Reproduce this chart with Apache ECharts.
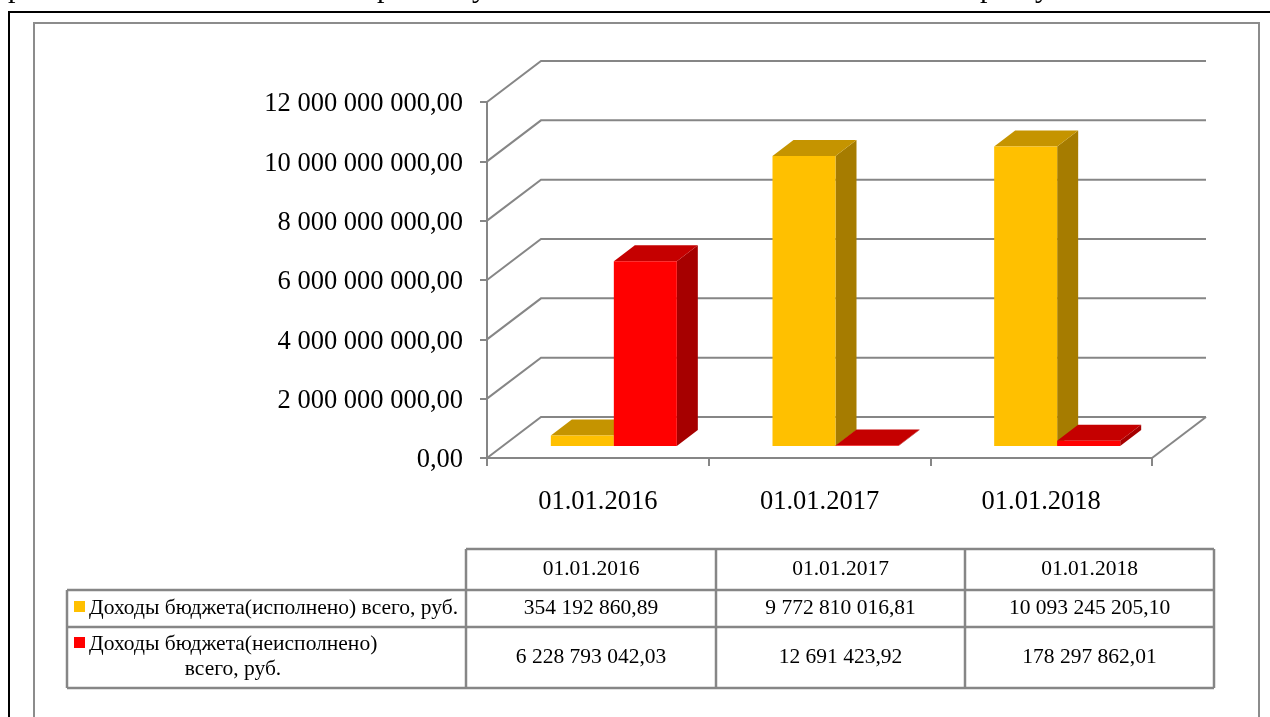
<!DOCTYPE html>
<html>
<head>
<meta charset="utf-8">
<style>
  html, body { margin: 0; padding: 0; background: #fff; }
  #chart { width: 1270px; height: 717px; }
</style>
<script src="https://cdn.jsdelivr.net/npm/echarts@6/dist/echarts.min.js"></script>
</head>
<body>
<div id="chart"></div>
<script>
const categories = ['01.01.2016', '01.01.2017', '01.01.2018']
const executedName = 'Доходы бюджета(исполнено) всего, руб.'
const unexecutedName = ['Доходы бюджета(неисполнено)', 'всего, руб.']
const executed = [354192860.89, 9772810016.81, 10093245205.10]
const unexecuted = [6228793042.03, 12691423.92, 178297862.01]
const executedText = ['354 192 860,89', '9 772 810 016,81', '10 093 245 205,10']
const unexecutedText = ['6 228 793 042,03', '12 691 423,92', '178 297 862,01']
const yTicks = [0, 2e9, 4e9, 6e9, 8e9, 10e9, 12e9]
// хвосты букв обрезанной строки над рамкой
const cutLetters = ['р', 'р', 'у', 'р', 'у']
const cutLettersX = [8, 377, 472, 980, 1035]

const SERIF = '"Liberation Serif", "Times New Roman", serif'
const GREY = '#868686'
// смещение задней стенки и глубина столбика
const WALL_DX = 54
const WALL_DY = -41
const BAR_DX = 21
const BAR_DY = -16
const FLOOR_DY = -12
const BAR_W = 63

const palette = [
  { front: '#FFC000', side: '#A67C00', top: '#C59400' },
  { front: '#FF0000', side: '#A60000', top: '#C50000' }
]

const formatTick = (v) => {
  const s = String(v).replace(/\B(?=(\d{3})+$)/g, ' ')
  return '{t|' + s + ',00}'
}

// стенка и пол: линии сетки через шкалу оси
const renderWall = (params, api) => {
  const cs = params.coordSys
  const y = api.coord([0, api.value(0)])[1]
  const x0 = cs.x
  const x1 = cs.x + cs.width
  const children = [{
    type: 'polyline',
    shape: { points: [[x0, y], [x0 + WALL_DX, y + WALL_DY], [x1 + WALL_DX, y + WALL_DY]] },
    style: { stroke: GREY, lineWidth: 2, fill: null }
  }]
  if (api.value(0) === 0) {
    children.push({
      type: 'line',
      shape: { x1: x1, y1: y, x2: x1 + WALL_DX, y2: y + WALL_DY },
      style: { stroke: GREY, lineWidth: 2 }
    })
  }
  return { type: 'group', children }
}

const renderBar = (seriesIndex) => (params, api) => {
  const c = palette[seriesIndex]
  const center = api.coord([api.value(0), 0])
  const top = api.coord([api.value(0), api.value(1)])
  const xl = center[0] + (seriesIndex === 0 ? -BAR_W : 0) + 16
  const xr = xl + BAR_W
  const yb = center[1] + FLOOR_DY
  const yt = top[1] + FLOOR_DY
  return {
    type: 'group',
    children: [
      { type: 'polygon', shape: { points: [[xr, yb], [xr + BAR_DX, yb + BAR_DY], [xr + BAR_DX, yt + BAR_DY], [xr, yt]] }, style: { fill: c.side } },
      { type: 'polygon', shape: { points: [[xl, yt], [xl + BAR_DX, yt + BAR_DY], [xr + BAR_DX, yt + BAR_DY], [xr, yt]] }, style: { fill: c.top } },
      { type: 'rect', shape: { x: xl, y: yt, width: BAR_W, height: yb - yt }, style: { fill: c.front } }
    ]
  }
}

// таблица данных под диаграммой
const colX = [67, 466, 716, 965, 1214]
const rowY = [549, 590, 627, 688]
const tableFont = 21.5
const buildTable = () => {
  const line = (x1, y1, x2, y2) => ({
    type: 'line', shape: { x1, y1, x2, y2 }, style: { stroke: GREY, lineWidth: 2.5 }
  })
  const text = (x, y, t, align) => ({
    type: 'text', x, y,
    style: {
      text: t,
      fill: '#000',
      fontFamily: SERIF,
      fontSize: tableFont,
      align: align || 'center',
      verticalAlign: 'middle'
    }
  })
  const els = []
  els.push(line(colX[1], rowY[0], colX[4], rowY[0]))
  rowY.slice(1).forEach((y) => els.push(line(colX[0], y, colX[4], y)))
  els.push(line(colX[0], rowY[1], colX[0], rowY[3]))
  colX.slice(1).forEach((x) => els.push(line(x, rowY[0], x, rowY[3])))
  categories.forEach((c, i) => {
    const cx = (colX[i + 1] + colX[i + 2]) / 2
    els.push(text(cx, (rowY[0] + rowY[1]) / 2, c))
    els.push(text(cx, (rowY[1] + rowY[2]) / 2, executedText[i]))
    els.push(text(cx, (rowY[2] + rowY[3]) / 2, unexecutedText[i]))
  })
  els.push({ type: 'rect', shape: { x: 74, y: 601, width: 11, height: 11 }, style: { fill: palette[0].front } })
  els.push({ type: 'rect', shape: { x: 74, y: 637, width: 11, height: 11 }, style: { fill: palette[1].front } })
  els.push(text(89, 608, executedName, 'left'))
  els.push(text(89, 644, unexecutedName[0], 'left'))
  els.push(text(233, 669, unexecutedName[1]))
  // рамки страницы
  els.push({ type: 'polyline', shape: { points: [[9, 717], [9, 12], [1270, 12]] }, style: { stroke: '#000', lineWidth: 2, fill: null } })
  els.push({ type: 'polyline', shape: { points: [[34, 717], [34, 23], [1259, 23], [1259, 717]] }, style: { stroke: '#8c8c8c', lineWidth: 2, fill: null } })
  cutLetters.forEach((ch, i) => {
    els.push({
      type: 'text', x: cutLettersX[i], y: 4,
      style: { text: ch, fill: '#000', fontFamily: SERIF, fontSize: 30, align: 'left', verticalAlign: 'bottom' }
    })
  })
  return els
}

const chart = echarts.init(document.getElementById('chart'), null, { renderer: 'canvas' })
chart.setOption({
  animation: false,
  backgroundColor: '#fff',
  grid: { left: 487, right: 118, top: 102, bottom: 259 },
  xAxis: {
    type: 'category',
    data: categories,
    axisLine: { show: true, lineStyle: { color: GREY, width: 2 } },
    axisTick: { show: true, length: 8, lineStyle: { color: GREY, width: 2 } },
    axisLabel: { color: '#000', fontFamily: SERIF, fontSize: 26.5, margin: 31 }
  },
  yAxis: {
    type: 'value',
    min: 0,
    max: 12e9,
    interval: 2e9,
    axisLine: { show: true, lineStyle: { color: GREY, width: 2 } },
    axisTick: { show: true, length: 7, lineStyle: { color: GREY, width: 2 } },
    axisLabel: {
      margin: 24,
      formatter: formatTick,
      rich: { t: { color: '#000', fontFamily: SERIF, fontSize: 26.5, padding: [5, 0, 0, 0] } }
    },
    splitLine: { show: false }
  },
  graphic: { elements: buildTable() },
  series: [
    { name: 'wall', type: 'custom', silent: true, z: 1, clip: false, renderItem: renderWall, data: yTicks.map((v) => [v]), encode: { y: 0 } },
    { name: executedName, type: 'custom', z: 3, clip: false, renderItem: renderBar(0), data: executed.map((v, i) => [i, v]), encode: { x: 0, y: 1 } },
    { name: unexecutedName.join(' '), type: 'custom', z: 4, clip: false, renderItem: renderBar(1), data: unexecuted.map((v, i) => [i, v]), encode: { x: 0, y: 1 } }
  ]
})
</script>
</body>
</html>
